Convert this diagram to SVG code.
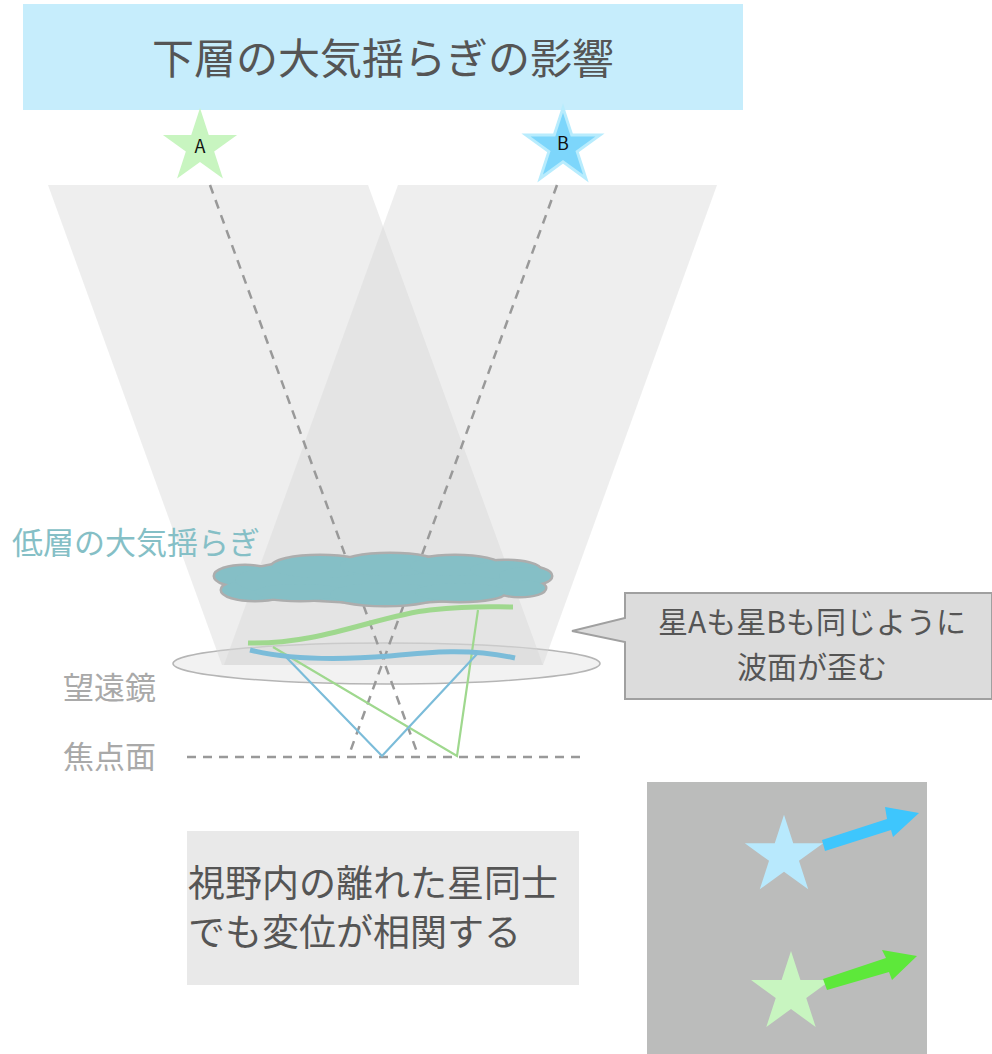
<svg xmlns="http://www.w3.org/2000/svg" xmlns:xlink="http://www.w3.org/1999/xlink" width="992" height="1054" viewBox="0 0 992 1054">
  <style>
    text { font-family: "Noto Sans CJK JP", "Noto Sans", sans-serif; }
    .dash { fill: none; stroke: #999999; stroke-width: 2.5; stroke-dasharray: 9 7; }
    .beam { fill: #d6d6d6; fill-opacity: 0.41; }
    .label { fill: #a9a9a9; font-size: 31px; }
    .body { fill: #555555; }
    .puff-edge { fill: #adadad; stroke: #adadad; stroke-width: 5; }
    .puff-fill { fill: #85bfc6; stroke: none; }
  </style>
  <defs>
    <!-- five-pointed star, outer radius 40 -->
    <polygon id="star" points="0,-40 8.98,-12.36 38.04,-12.36 14.53,4.72 23.51,32.36 0,15.28 -23.51,32.36 -14.53,4.72 -38.04,-12.36 -8.98,-12.36"/>
    <!-- cloud built from overlapping puffs (paint inherited from the <use>) -->
    <g id="puffs">
      <ellipse cx="245" cy="576" rx="30" ry="10"/>
      <ellipse cx="255" cy="590" rx="33" ry="10"/>
      <ellipse cx="385" cy="580" rx="150" ry="22"/>
      <ellipse cx="320" cy="567" rx="48" ry="11"/>
      <ellipse cx="390" cy="565" rx="50" ry="11"/>
      <ellipse cx="455" cy="566" rx="45" ry="10"/>
      <ellipse cx="505" cy="570" rx="35" ry="9"/>
      <ellipse cx="525" cy="576" rx="26" ry="9"/>
      <ellipse cx="520" cy="588" rx="25" ry="8"/>
      <ellipse cx="300" cy="592" rx="45" ry="8"/>
      <ellipse cx="385" cy="594" rx="55" ry="11"/>
      <ellipse cx="460" cy="592" rx="45" ry="9"/>
    </g>
  </defs>

  <!-- title -->
  <g id="title">
    <rect x="23" y="4" width="720" height="106" fill="#c6edfc"/>
    <text x="383" y="74" font-size="42" text-anchor="middle" class="body">下層の大気揺らぎの影響</text>
  </g>

  <!-- telescope lens -->
  <g id="lens">
    <ellipse cx="386.5" cy="663.5" rx="213.5" ry="20.5" fill="#f2f2f2" stroke="#b5b5b5" stroke-width="1.5"/>
  </g>

  <!-- light beams from the two stars -->
  <g id="beams">
    <polygon class="beam" points="48,185 368,185 543,665 222,665"/>
    <polygon class="beam" points="398,185 717,185 543,665 224,665"/>
  </g>

  <!-- stars -->
  <g id="starA">
    <use xlink:href="#star" transform="translate(200,147) scale(0.975)" fill="#c8f5c0"/>
    <text x="200" y="153" font-size="18" text-anchor="middle" fill="#111">A</text>
  </g>
  <g id="starB">
    <use xlink:href="#star" transform="translate(563,147) scale(0.975)" fill="#7dd6fb" stroke="#b8ecfd" stroke-width="3"/>
    <text x="563" y="150" font-size="18" text-anchor="middle" fill="#111">B</text>
  </g>

  <!-- connectors: chief rays and refracted rays -->
  <g id="connectors">
    <line class="dash" x1="210" y1="185" x2="417" y2="752"/>
    <line class="dash" x1="557" y1="185" x2="350" y2="752"/>
    <line class="dash" x1="187" y1="757" x2="580" y2="757" stroke-dasharray="10 7"/>
    <polyline points="273,647 457,756 478,610" fill="none" stroke="#9fd88e" stroke-width="2.2"/>
    <polyline points="285,656 382,756 477,654" fill="none" stroke="#7bbcd9" stroke-width="2.2"/>
  </g>

  <!-- turbulent layer -->
  <g id="cloud">
    <use xlink:href="#puffs" class="puff-edge"/>
    <use xlink:href="#puffs" class="puff-fill"/>
  </g>

  <!-- distorted wavefronts -->
  <g id="wavefronts">
    <path d="M248,643 C320,645 380,615 430,610 S490,607 513,607" fill="none" stroke="#9fd88e" stroke-width="5"/>
    <path d="M250,650 C290,660 340,660 390,656 C430,652 470,648 515,658" fill="none" stroke="#7bbcd9" stroke-width="5"/>
  </g>

  <!-- side labels -->
  <g id="labels">
    <text x="12" y="554" font-size="31" fill="#85bfc6">低層の大気揺らぎ</text>
    <text x="63" y="699" class="label">望遠鏡</text>
    <text x="63" y="768" class="label">焦点面</text>
  </g>

  <!-- callout -->
  <g id="callout">
    <path d="M625,593 L992,593 L992,699 L625,699 L625,642 L572,631 L625,618 Z" fill="#dcdcdc" stroke="#a0a0a0" stroke-width="2"/>
    <text x="812" y="633" font-size="30" text-anchor="middle" class="body">星Aも星Bも同じように</text>
    <text x="812" y="678" font-size="30" text-anchor="middle" class="body">波面が歪む</text>
  </g>

  <!-- note box -->
  <g id="note">
    <rect x="187" y="831" width="392" height="154" fill="#e9e9e9"/>
    <text x="188" y="897" font-size="37" class="body">視野内の離れた星同士</text>
    <text x="188" y="946" font-size="37" class="body">でも変位が相関する</text>
  </g>

  <!-- image plane displacement -->
  <g id="displacement">
    <rect x="647" y="782" width="280" height="272" fill="#bbbcbb"/>
    <use xlink:href="#star" transform="translate(784,856) scale(1.03)" fill="#b8e9fd"/>
    <polygon points="822,840 887,819 885,807 919,813 893,837 891,830 825,851" fill="#3ec6fd"/>
    <use xlink:href="#star" transform="translate(791,993) scale(1.05)" fill="#c8f5c0"/>
    <polygon points="823,979 886,958 882,950 917,956 892,980 889,972 827,990" fill="#5de83a"/>
  </g>
</svg>
